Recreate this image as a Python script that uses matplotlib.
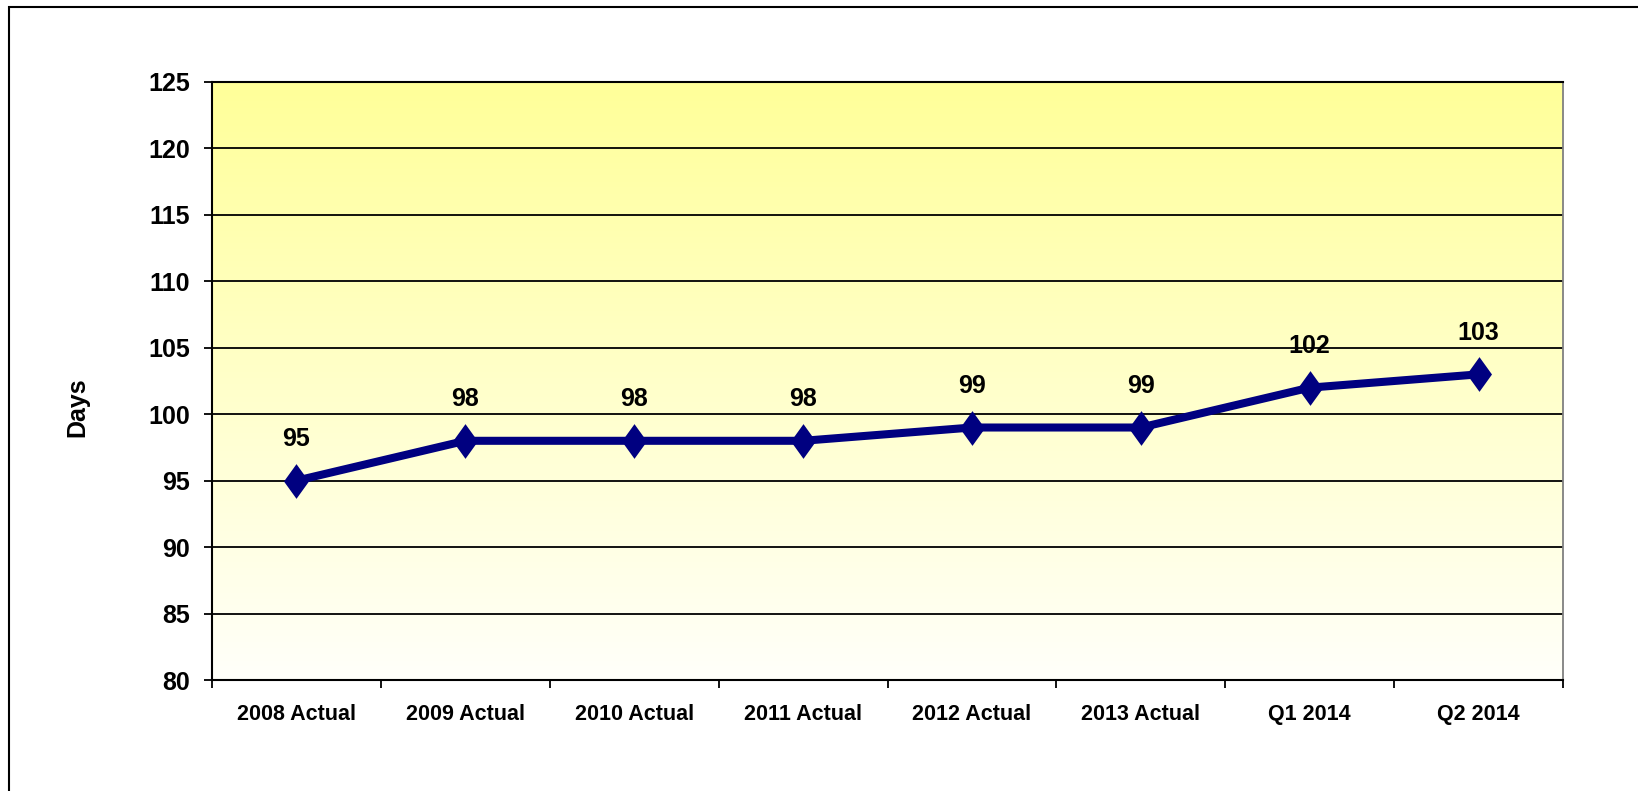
import numpy as np
import matplotlib
matplotlib.use("Agg")
import matplotlib.pyplot as plt
from matplotlib.path import Path
from matplotlib.patches import Rectangle

categories = ["2008 Actual", "2009 Actual", "2010 Actual", "2011 Actual",
              "2012 Actual", "2013 Actual", "Q1 2014", "Q2 2014"]
days = [95, 98, 98, 98, 99, 99, 102, 103]
y_ticks = [80, 85, 90, 95, 100, 105, 110, 115, 120, 125]

font = ["Liberation Sans Narrow", "Liberation Sans", "DejaVu Sans"]
plt.rcParams["font.family"] = font
plt.rcParams["font.weight"] = "bold"

fig = plt.figure(figsize=(16.38, 7.91), dpi=100)
ax = fig.add_axes([212 / 1638, 1 - 680 / 791, (1563 - 212) / 1638, (680 - 82) / 791])

x = np.arange(len(categories))
ax.set_xlim(-0.5, len(categories) - 0.5)
ax.set_ylim(80, 125)

# yellow gradient background
grad = np.linspace(0, 1, 256).reshape(-1, 1)
top = np.array([255, 255, 153]) / 255
bot = np.array([255, 255, 250]) / 255
img = bot + (top - bot) * grad[..., None]
ax.imshow(img, extent=[-0.5, len(categories) - 0.5, 80, 125], origin="lower",
          aspect="auto", zorder=0)

ax.set_yticks(y_ticks)
ax.grid(axis="y", color="black", linewidth=1.3, zorder=1)
ax.set_axisbelow(True)

diamond = Path([(0, 1), (0.72, 0), (0, -1), (-0.72, 0), (0, 1)],
               [Path.MOVETO, Path.LINETO, Path.LINETO, Path.LINETO, Path.CLOSEPOLY])
ax.plot(x, days, color="#000080", linewidth=5.8, marker=diamond,
        markersize=25, markeredgewidth=0, zorder=3)

for xi, v in zip(x, days):
    ax.annotate(str(v), (xi, v), xytext=(0, 30), textcoords="offset points",
                ha="center", va="center", fontsize=18, fontweight="bold",
                color="black", zorder=4)

ax.set_xticks(x)
ax.set_xticklabels(categories, fontsize=15.5, fontweight="bold")
ax.set_xticks(np.arange(-0.5, len(categories)), minor=True)
ax.tick_params(axis="x", which="major", length=0, pad=17)
ax.tick_params(axis="x", which="minor", length=6, width=1.3, direction="out")
ax.tick_params(axis="y", length=6, width=1.3, direction="out", pad=10,
               labelsize=18)
for lab in ax.get_yticklabels():
    lab.set_fontweight("bold")

for s in ["left", "bottom", "top"]:
    ax.spines[s].set_color("black")
    ax.spines[s].set_linewidth(1.5)
ax.spines["right"].set_color("#808080")
ax.spines["right"].set_linewidth(1.3)

fig.text(77 / 1638, 1 - 407 / 791, "Days", rotation=90, ha="center", va="center",
         fontsize=18, fontweight="bold")

# outer chart border (left and top visible)
fig.patches.append(Rectangle((9 / 1638, -0.05), 1.2, 1.05 - 7 / 791,
                             transform=fig.transFigure, fill=False,
                             edgecolor="black", linewidth=1.5, zorder=0))

fig.savefig("out.png", dpi=100)
plt.close(fig)
